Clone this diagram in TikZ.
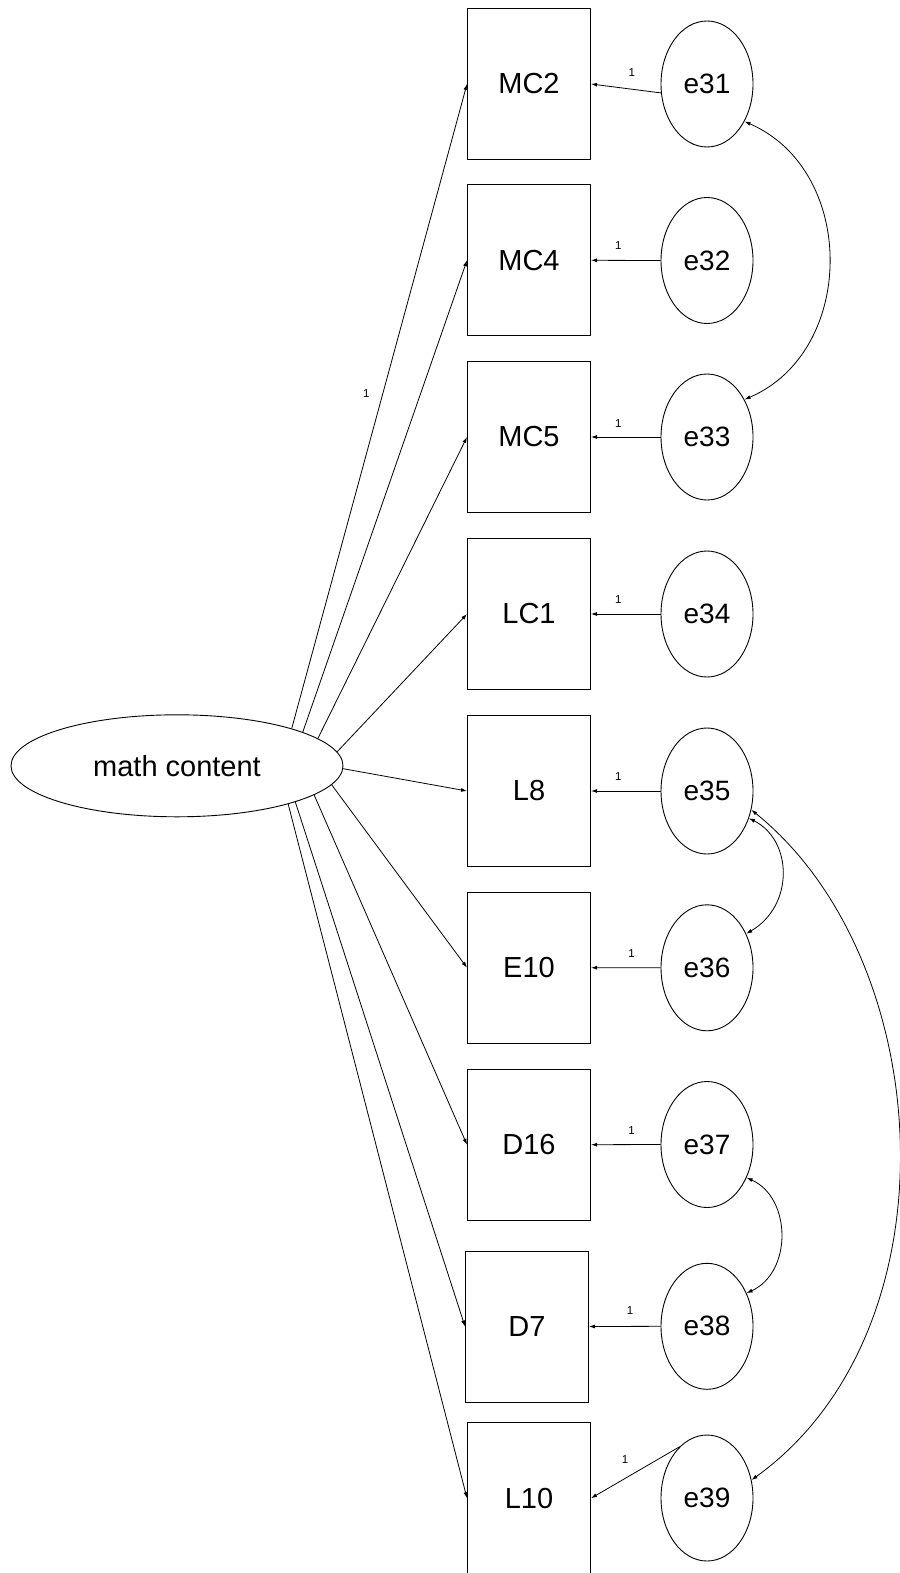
\documentclass[tikz,border=0pt]{standalone}
\usepackage{fontspec}
\setmainfont{Liberation Sans}
\usetikzlibrary{arrows.meta,shapes.geometric}
\begin{document}
\begin{tikzpicture}[x=1pt,y=-1pt,
  obs/.style={draw, line width=1pt, rectangle, minimum width=123pt, minimum height=151pt, inner sep=0pt, font=\fontsize{29}{31}\selectfont},
  err/.style={draw, line width=0.9pt, ellipse, minimum width=92pt, minimum height=126pt, inner sep=0pt, font=\fontsize{28}{30}\selectfont},
  lat/.style={draw, line width=0.9pt, ellipse, minimum width=332pt, minimum height=102pt, inner sep=0pt, font=\fontsize{29}{31}\selectfont},
  load/.style={line width=0.8pt, -{Latex[length=6pt,width=4pt]}},
  cov/.style={line width=0.8pt, {Latex[length=6pt,width=4pt]}-{Latex[length=6pt,width=4pt]}},
  lbl/.style={font=\fontsize{11.5}{12}\selectfont, inner sep=0pt}
]
\fill[white] (0,0) rectangle (899,1573);
\useasboundingbox (0,0) rectangle (899,1573);

\node[lat] (mc) at (177,765.8) {math content};

\node[obs] (MC2) at (529,84) {MC2};
\node[obs] (MC4) at (529,260.3) {MC4};
\node[obs] (MC5) at (529,437) {MC5};
\node[obs] (LC1) at (529,614) {LC1};
\node[obs] (L8)  at (529,791) {L8};
\node[obs] (E10) at (529,967.7) {E10};
\node[obs] (D16) at (529,1144.7) {D16};
\node[obs] (D7)  at (527,1326.5) {D7};
\node[obs] (L10) at (529,1498.2) {L10};

\node[err] (e31) at (707,84) {e31};
\node[err] (e32) at (707,260.5) {e32};
\node[err] (e33) at (707,437) {e33};
\node[err] (e34) at (707,614) {e34};
\node[err] (e35) at (707,791) {e35};
\node[err] (e36) at (707,967.8) {e36};
\node[err] (e37) at (707,1144.5) {e37};
\node[err] (e38) at (707,1326.3) {e38};
\node[err] (e39) at (707,1498) {e39};

% loadings
\draw[load] (mc.18) -- (MC2.west) node[lbl, pos=0.52, left=13pt] (l0) {1};
\draw[load] (mc.15) -- (MC4.west);
\draw[load] (mc.11) -- (MC5.west);
\draw[load] (mc.5) -- (LC1.west);
\draw[load] (mc.-1) -- (L8.west);
\draw[load] (mc.-7) -- (E10.west);
\draw[load] (mc.-12) -- (D16.west);
\draw[load] (mc.-17) -- (D7.west);
\draw[load] (mc.-19) -- (L10.west);

% error paths
\draw[load] (e31.191) -- (MC2.east) node[lbl, pos=0.417, above=12pt] (l1) {1};
\draw[load] (e32.west) -- (MC4.east) node[lbl, pos=0.607, above=10pt] (l2) {1};
\draw[load] (e33.west) -- (MC5.east) node[lbl, pos=0.607, above=9pt] (l3) {1};
\draw[load] (e34.west) -- (LC1.east) node[lbl, pos=0.607, above=10pt] (l4) {1};
\draw[load] (e35.west) -- (L8.east) node[lbl, pos=0.607, above=10pt] (l5) {1};
\draw[load] (e36.west) -- (E10.east) node[lbl, pos=0.417, above=10pt] (l6) {1};
\draw[load] (e37.west) -- (D16.east) node[lbl, pos=0.417, above=10pt] (l7) {1};
\draw[load] (e38.west) -- (D7.east) node[lbl, pos=0.426, above=11.5pt] (l8) {1};
\draw[load] (e39.118) -- (L10.east) node[lbl, pos=0.616, above=15pt] (l9) {1};

% covariances
\draw[cov] (e31.-45) .. controls +(113,49) and +(112,-48) .. (e33.45);
\draw[cov] (e35.-33) .. controls +(44,22) and +(48,-28) .. (e36.41);
\draw[cov] (e35.-23) .. controls +(186,150) and +(208,-150) .. (e39.22);
\draw[cov] (e37.-40) .. controls +(45,20) and +(46,-21) .. (e38.40);
\end{tikzpicture}
\end{document}
